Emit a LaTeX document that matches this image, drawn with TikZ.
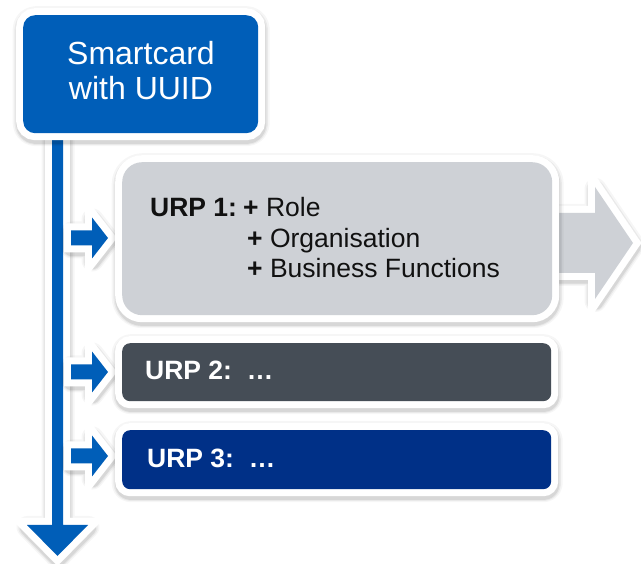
\documentclass[tikz,border=0pt]{standalone}
\usepackage{fontspec}
\setmainfont{Liberation Sans}
\usetikzlibrary{shadows}
\definecolor{nhsblue}{HTML}{005EB8}
\definecolor{urpgray}{HTML}{CED1D6}
\definecolor{urpdark}{HTML}{454D56}
\definecolor{urpnavy}{HTML}{003087}
\definecolor{txtdark}{HTML}{111111}
\tikzset{
  softshadow/.style={
    drop shadow={fill=black, draw=black, line width=22pt, line join=round, opacity=0.035, shadow xshift=0.5pt, shadow yshift=-2pt},
    drop shadow={fill=black, draw=black, line width=18.5pt, line join=round, opacity=0.05, shadow xshift=0.5pt, shadow yshift=-2.5pt},
    drop shadow={fill=black, draw=black, line width=15.5pt, line join=round, opacity=0.08, shadow xshift=0.5pt, shadow yshift=-3pt}},
  whiteedge/.style={preaction={draw=white, line width=14pt, line join=miter}},
  cardbox/.style={softshadow, whiteedge, fill=#1, inner sep=0pt, anchor=north west},
  arrowbase/.style={fill=#1, softshadow, whiteedge},
  boxtext/.style={font=\fontsize{26.5}{30}\selectfont, anchor=base west, inner sep=0pt},
}
\begin{document}
\begin{tikzpicture}[x=1pt,y=-1pt]
\useasboundingbox (0,0) rectangle (641,564);
% main vertical arrow
\path[arrowbase=nhsblue] (52,128) -- (63,128) -- (63,525) -- (88,525) -- (57.5,556) -- (27,525) -- (52,525) -- cycle;
% small arrows
\foreach \yy in {238,372,456}{
  \path[arrowbase=nhsblue] (71,\yy-7.5) -- (92,\yy-7.5) -- (92,\yy-20.5) -- (108,\yy) -- (92,\yy+20.5) -- (92,\yy+7.5) -- (71,\yy+7.5) -- cycle;
}
% big gray arrow
\path[arrowbase=urpgray] (540,213) -- (595,213) -- (595,187) -- (633,243) -- (595,299) -- (595,273) -- (540,273) -- cycle;
% smartcard
\node[cardbox=nhsblue, rounded corners=12pt, minimum width=235pt, minimum height=118pt] (card) at (23,15) {};
\node[font=\fontsize{32}{35}\selectfont, text=white, align=center, inner sep=0pt] (cardtxt) at (141,71) {Smartcard\\with UUID};
% URP boxes
\node[cardbox=urpgray, rounded corners=20pt, minimum width=430pt, minimum height=153pt] (urp1) at (122,162) {};
\node[cardbox=urpdark, rounded corners=8pt, minimum width=429pt, minimum height=58pt] (urp2) at (122,343) {};
\node[cardbox=urpnavy, rounded corners=8pt, minimum width=429pt, minimum height=59pt] (urp3) at (122,430) {};
% URP 1 text
\node[boxtext, text=txtdark] (u1a) at (150,217) {\textbf{URP 1:}};
\node[boxtext, text=txtdark] (u1b) at (243,217) {\textbf{+} Role};
\node[boxtext, text=txtdark] (u1c) at (247,248) {\textbf{+} Organisation};
\node[boxtext, text=txtdark] (u1d) at (247,278) {\textbf{+} Business Functions};
% URP 2 / 3 text
\node[boxtext, text=white] (u2) at (145,380) {\textbf{URP 2:\ \ …}};
\node[boxtext, text=white] (u3) at (147,468) {\textbf{URP 3:\ \ …}};
\end{tikzpicture}
\end{document}
